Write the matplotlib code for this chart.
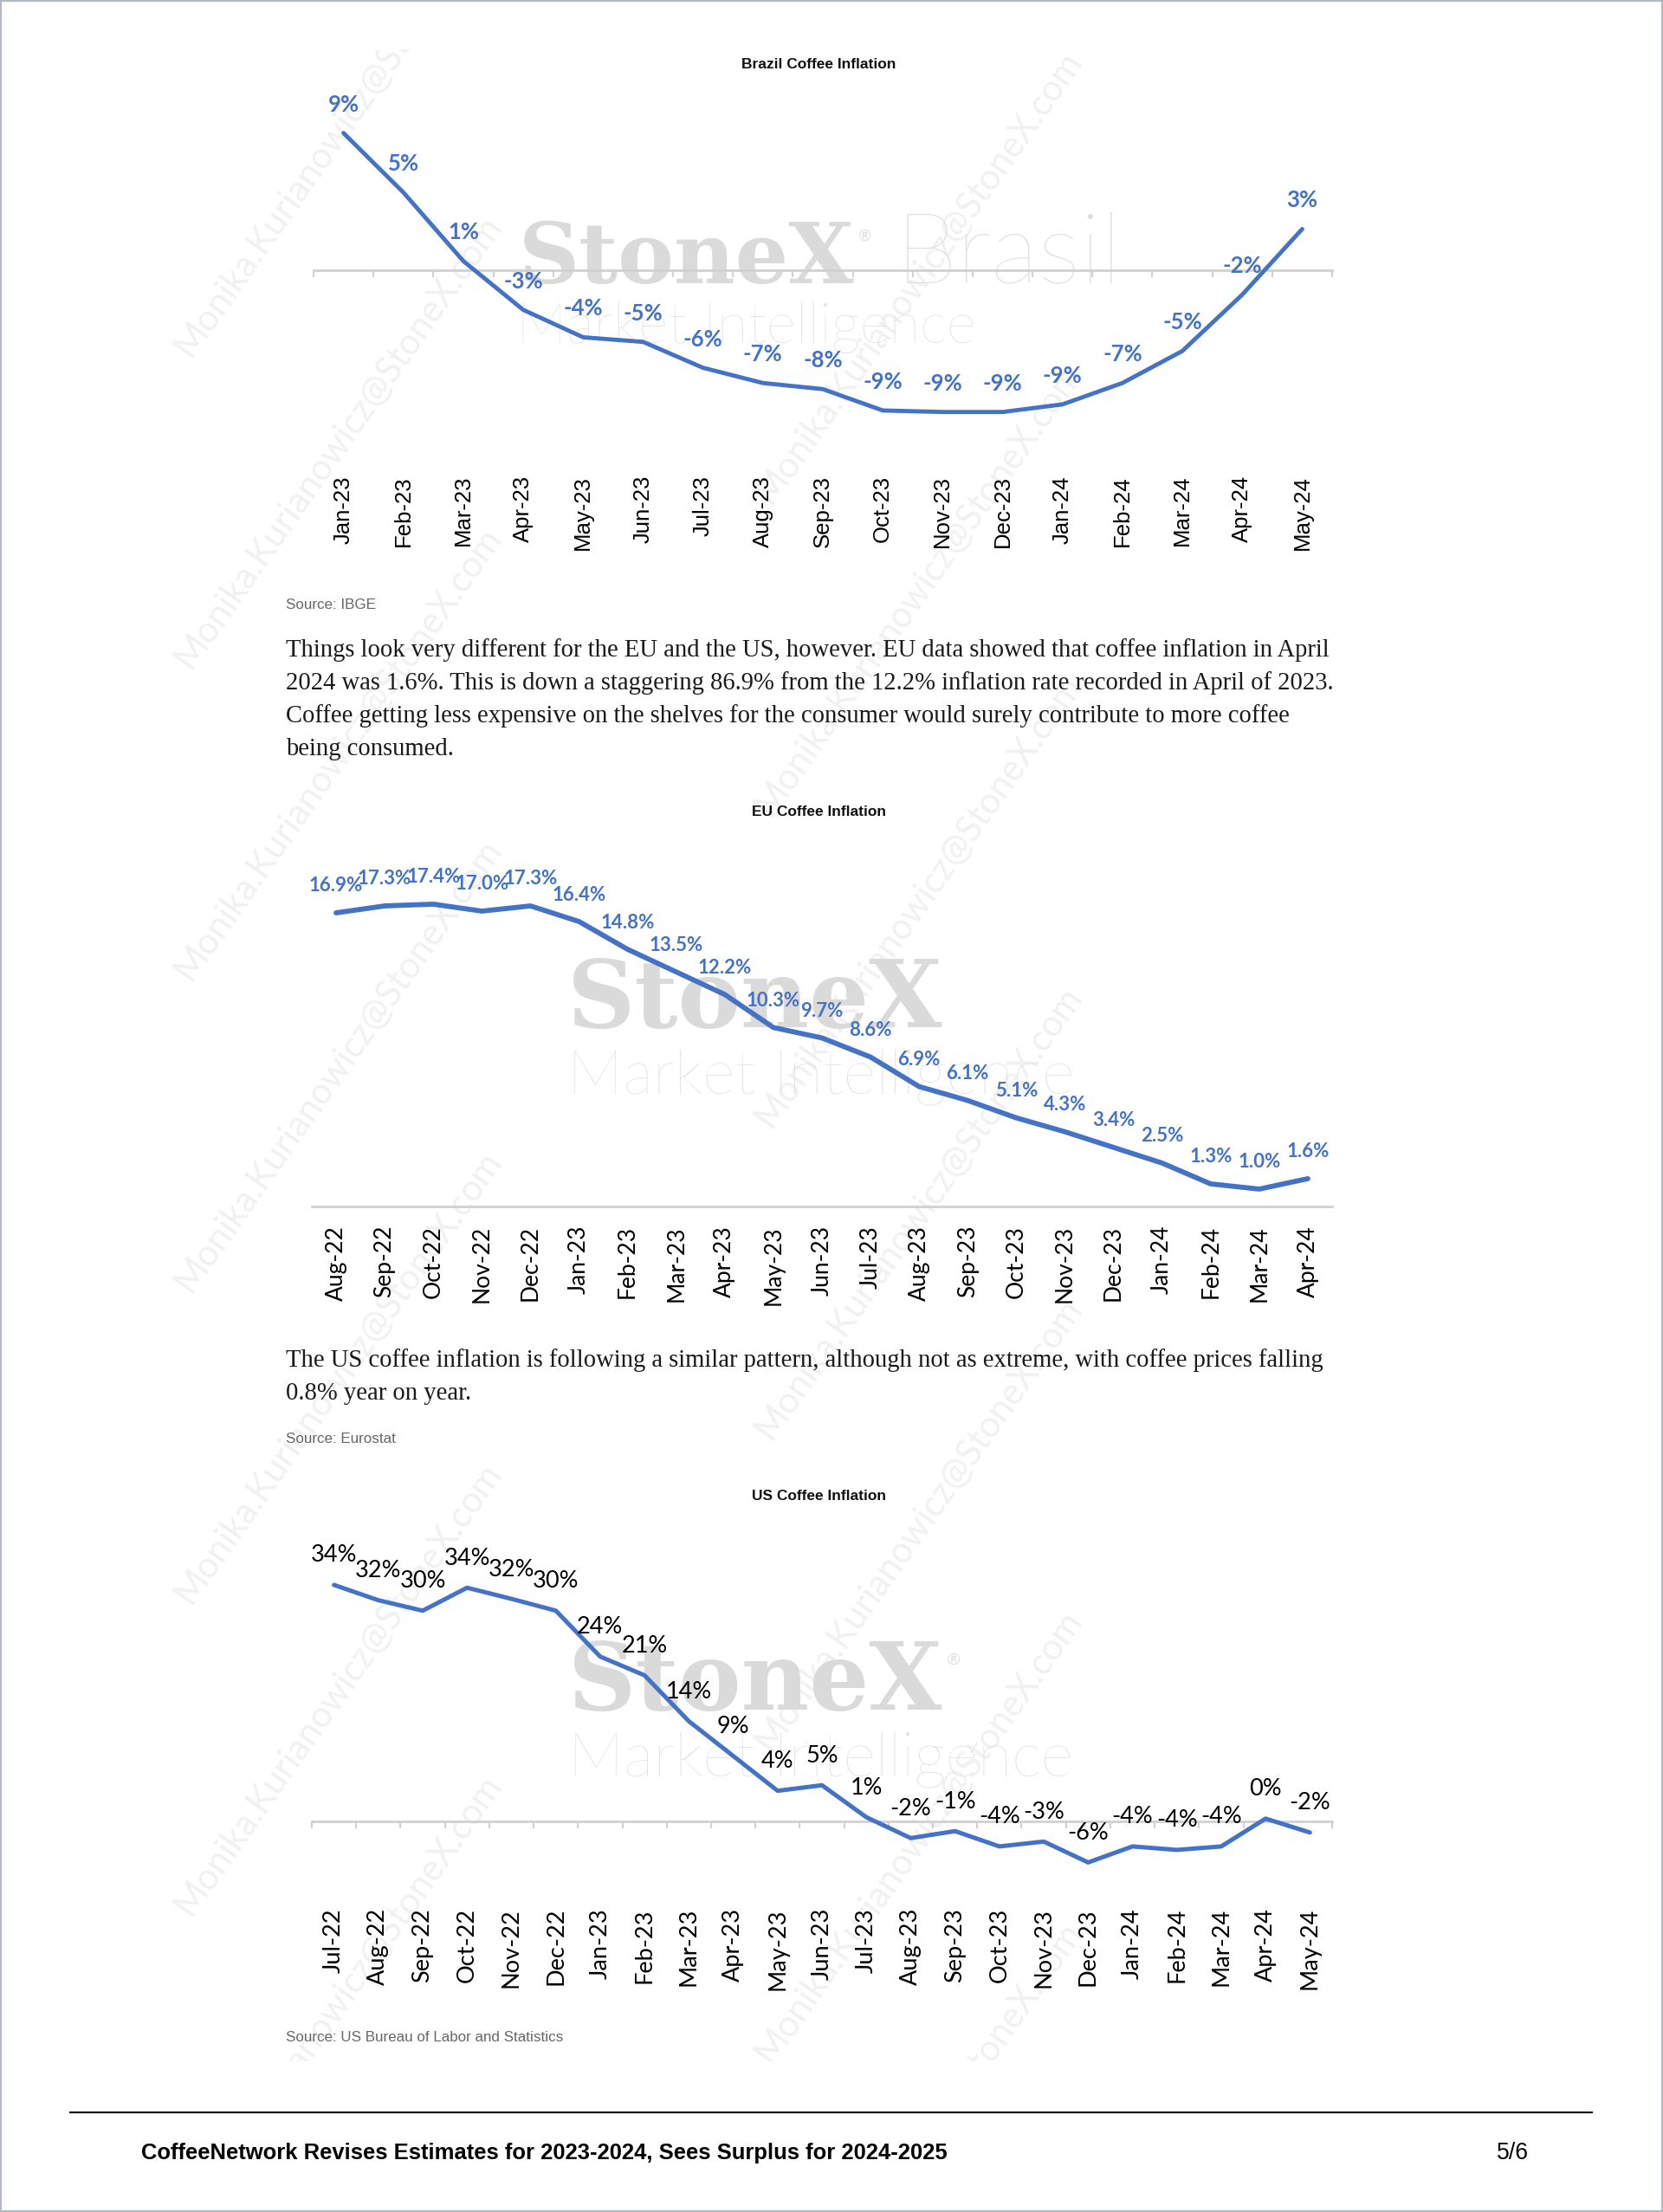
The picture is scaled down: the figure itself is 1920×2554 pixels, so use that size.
import matplotlib
matplotlib.use('Agg')
import matplotlib.pyplot as plt
import matplotlib.transforms as mtransforms
from matplotlib import font_manager as fm
from matplotlib.patches import Rectangle
import numpy as np

W, H = 1920, 2554
DPI = 100


def has_font(name):
    try:
        fm.findfont(fm.FontProperties(family=name), fallback_to_default=False)
        return True
    except Exception:
        return False


def pick(*names):
    for n in names:
        if has_font(n):
            return n
    return 'DejaVu Sans'


SANS = pick('Liberation Sans', 'Arimo', 'DejaVu Sans')
CAL = pick('Lato', 'Open Sans', 'DejaVu Sans')
SERIF = pick('Liberation Serif', 'DejaVu Serif')
LOGO_SERIF = pick('DejaVu Serif', 'Liberation Serif')

# ---------------- data ----------------
brazil_months = ['Jan-23', 'Feb-23', 'Mar-23', 'Apr-23', 'May-23', 'Jun-23', 'Jul-23',
                 'Aug-23', 'Sep-23', 'Oct-23', 'Nov-23', 'Dec-23', 'Jan-24', 'Feb-24',
                 'Mar-24', 'Apr-24', 'May-24']
brazil_values = [9.0, 5.1, 0.6, -2.6, -4.4, -4.7, -6.4, -7.4, -7.8, -9.2, -9.3, -9.3,
                 -8.8, -7.4, -5.3, -1.6, 2.7]

eu_months = ['Aug-22', 'Sep-22', 'Oct-22', 'Nov-22', 'Dec-22', 'Jan-23', 'Feb-23',
             'Mar-23', 'Apr-23', 'May-23', 'Jun-23', 'Jul-23', 'Aug-23', 'Sep-23',
             'Oct-23', 'Nov-23', 'Dec-23', 'Jan-24', 'Feb-24', 'Mar-24', 'Apr-24']
eu_values = [16.9, 17.3, 17.4, 17.0, 17.3, 16.4, 14.8, 13.5, 12.2, 10.3, 9.7, 8.6,
             6.9, 6.1, 5.1, 4.3, 3.4, 2.5, 1.3, 1.0, 1.6]

us_months = ['Jul-22', 'Aug-22', 'Sep-22', 'Oct-22', 'Nov-22', 'Dec-22', 'Jan-23',
             'Feb-23', 'Mar-23', 'Apr-23', 'May-23', 'Jun-23', 'Jul-23', 'Aug-23',
             'Sep-23', 'Oct-23', 'Nov-23', 'Dec-23', 'Jan-24', 'Feb-24', 'Mar-24',
             'Apr-24', 'May-24']
us_values = [34.0, 31.8, 30.3, 33.6, 32.0, 30.3, 23.7, 21.0, 14.4, 9.4, 4.4, 5.2,
             0.6, -2.4, -1.4, -3.6, -2.9, -5.9, -3.6, -4.1, -3.6, 0.4, -1.6]

titles = ['Brazil Coffee Inflation', 'EU Coffee Inflation', 'US Coffee Inflation']
sources = ['Source: IBGE', 'Source: Eurostat', 'Source: US Bureau of Labor and Statistics']
para1 = ['Things look very different for the EU and the US, however. EU data showed that coffee inflation in April',
         '2024 was 1.6%. This is down a staggering 86.9% from the 12.2% inflation rate recorded in April of 2023.',
         'Coffee getting less expensive on the shelves for the consumer would surely contribute to more coffee',
         'being consumed.']
para2 = ['The US coffee inflation is following a similar pattern, although not as extreme, with coffee prices falling',
         '0.8% year on year.']
footer_title = 'CoffeeNetwork Revises Estimates for 2023-2024, Sees Surplus for 2024-2025'
page_no = '5/6'
watermark = 'Monika.Kurianowicz@StoneX.com'

BLUE = '#4472C4'
AXIS_GRAY = '#D0D0D0'

fig = plt.figure(figsize=(W / DPI, H / DPI), dpi=DPI)
fig.patch.set_facecolor('white')
renderer = fig.canvas.get_renderer()


def fx(x):
    return x / W


def fy(y):
    return 1 - y / H


def ptext(x, y, s, width=None, size=12, **kw):
    kw.setdefault('va', 'baseline')
    t = fig.text(fx(x), fy(y), s, fontsize=size, **kw)
    if width is not None:
        w = t.get_window_extent(renderer=renderer).width
        t.set_fontsize(size * width / w)
    return t


# ---------------- background watermarks ----------------
bg = fig.add_axes([fx(195), fy(2380), (1400 - 195) / W, (2380 - 57) / H], zorder=-2)
bg.set_facecolor('none')
bg.axis('off')
for cx, yoff in [(390, 150), (1060, 320)]:
    cy = yoff
    while cy < 2700:
        bg.text(fx(cx), fy(cy), watermark, transform=fig.transFigure, rotation=55,
                rotation_mode='anchor', ha='center', va='center', fontsize=30,
                family=CAL, color='#F1F1F1', clip_on=True, zorder=-2)
        cy += 360

LOGO_DARK = '#DADADA'
LOGO_LIGHT = '#DEDEDE'
# Brazil logo
ptext(599, 327, 'StoneX', width=386, family=LOGO_SERIF, weight='bold', color=LOGO_DARK, zorder=-1)
ptext(992, 278, '®', size=13, family=SANS, color=LOGO_DARK, zorder=-1)
ptext(1034, 327, 'Brasil', width=261, family=CAL, weight='light', color=LOGO_LIGHT, zorder=-1)
ptext(596, 396, 'Market Intelligence', width=528, family=CAL, weight='light', color=LOGO_LIGHT, zorder=-1)
# EU logo
ptext(655, 1186, 'StoneX', width=432, family=LOGO_SERIF, weight='bold', color=LOGO_DARK, zorder=-1)
ptext(655, 1262, 'Market Intelligence', width=583, family=CAL, weight='light', color=LOGO_LIGHT, zorder=-1)
# US logo
ptext(656, 1974, 'StoneX', width=431, family=LOGO_SERIF, weight='bold', color=LOGO_DARK, zorder=-1)
ptext(1094, 1922, '®', size=14, family=SANS, color=LOGO_DARK, zorder=-1)
ptext(656, 2051, 'Market Intelligence', width=580, family=CAL, weight='light', color=LOGO_LIGHT, zorder=-1)


# ---------------- charts ----------------
def line_chart(months, values, x0, x1, top, bottom, zero_px, ppu, lw, fmt,
               lab_color, lab_size, lab_weight, lab_off, tick_family, tick_size, ticks=True):
    ax = fig.add_axes([fx(x0), fy(bottom), (x1 - x0) / W, (bottom - top) / H])
    ax.set_facecolor('none')
    n = len(values)
    x = np.arange(n)
    ax.set_xlim(-0.5, n - 0.5)
    ax.set_ylim((zero_px - bottom) / ppu, (zero_px - top) / ppu)
    for s in ['top', 'right', 'left']:
        ax.spines[s].set_visible(False)
    ax.spines['bottom'].set_position(('data', 0))
    ax.spines['bottom'].set_color(AXIS_GRAY)
    ax.spines['bottom'].set_linewidth(2.0)
    ax.set_yticks([])
    ax.set_xticks(np.arange(-0.5, n, 1.0))
    ax.set_xticklabels([])
    ax.tick_params(axis='x', length=6 if ticks else 0, width=1.5, color=AXIS_GRAY, direction='out')
    ax.plot(x, values, color=BLUE, lw=lw, solid_joinstyle='round', solid_capstyle='round', zorder=3)
    for xi, v in zip(x, values):
        ax.annotate(fmt.format(v), (xi, v), xytext=(0, lab_off * 72 / DPI), textcoords='offset points',
                    ha='center', va='center', fontsize=lab_size, family=CAL, weight=lab_weight,
                    color=lab_color, zorder=4)
    trans = mtransforms.blended_transform_factory(ax.transData, ax.transAxes)
    for xi, m in zip(x, months):
        ax.text(xi, 0, m, transform=trans, rotation=90, ha='center', va='top',
                fontsize=tick_size, family=tick_family, color='black')
    return ax


line_chart(brazil_months, brazil_values, 362, 1538, 100, 549, 312, 17.6, 3.5, '{:.0f}%',
           BLUE, 18.5, 'bold', 33, SANS, 18.5)
line_chart(eu_months, eu_values, 360, 1538, 960, 1415, 1393, 20.06, 4.2, '{:.1f}%',
           BLUE, 16, 'bold', 31, CAL, 19, ticks=False)
line_chart(us_months, us_values, 360, 1538, 1760, 2203, 2103, 8.03, 3.6, '{:.0f}%',
           'black', 19.5, 'normal', 34, CAL, 19.5)

# ---------------- titles / sources ----------------
t0 = ptext(945, 79, titles[0], width=178, family=SANS, weight='bold', ha='center', color='#111111')
tsize = t0.get_fontsize()
ptext(945, 942, titles[1], size=tsize, family=SANS, weight='bold', ha='center', color='#111111')
ptext(945, 1732, titles[2], size=tsize, family=SANS, weight='bold', ha='center', color='#111111')

s2 = ptext(330, 2357, sources[2], width=321, family=SANS, color='#666666')
ssize = s2.get_fontsize()
ptext(330, 703, sources[0], size=ssize, family=SANS, color='#666666')
ptext(330, 1666, sources[1], size=ssize, family=SANS, color='#666666')

# ---------------- paragraphs ----------------
p = ptext(330, 758, para1[0], width=1201, family=SERIF, color='#1a1a1a')
psize = p.get_fontsize()
for i, line in enumerate(para1[1:], start=1):
    ptext(330, 758 + 38 * i, line, size=psize, family=SERIF, color='#1a1a1a')
for i, line in enumerate(para2):
    ptext(330, 1578 + 38 * i, line, size=psize, family=SERIF, color='#1a1a1a')

# ---------------- footer ----------------
fig.add_artist(plt.Line2D([fx(81), fx(1838)], [fy(2439), fy(2439)], transform=fig.transFigure,
                          color='black', lw=1.5))
ptext(163, 2493, footer_title, width=928, family=SANS, weight='bold', color='black')
ptext(1728, 2493, page_no, width=37, family=SANS, color='black')

# page border
fig.add_artist(Rectangle((0, 0), 1, 1, transform=fig.transFigure, fill=False,
                         edgecolor='#B3B9C5', lw=3.0, zorder=10))

fig.savefig('out.png', dpi=DPI, facecolor='white')
